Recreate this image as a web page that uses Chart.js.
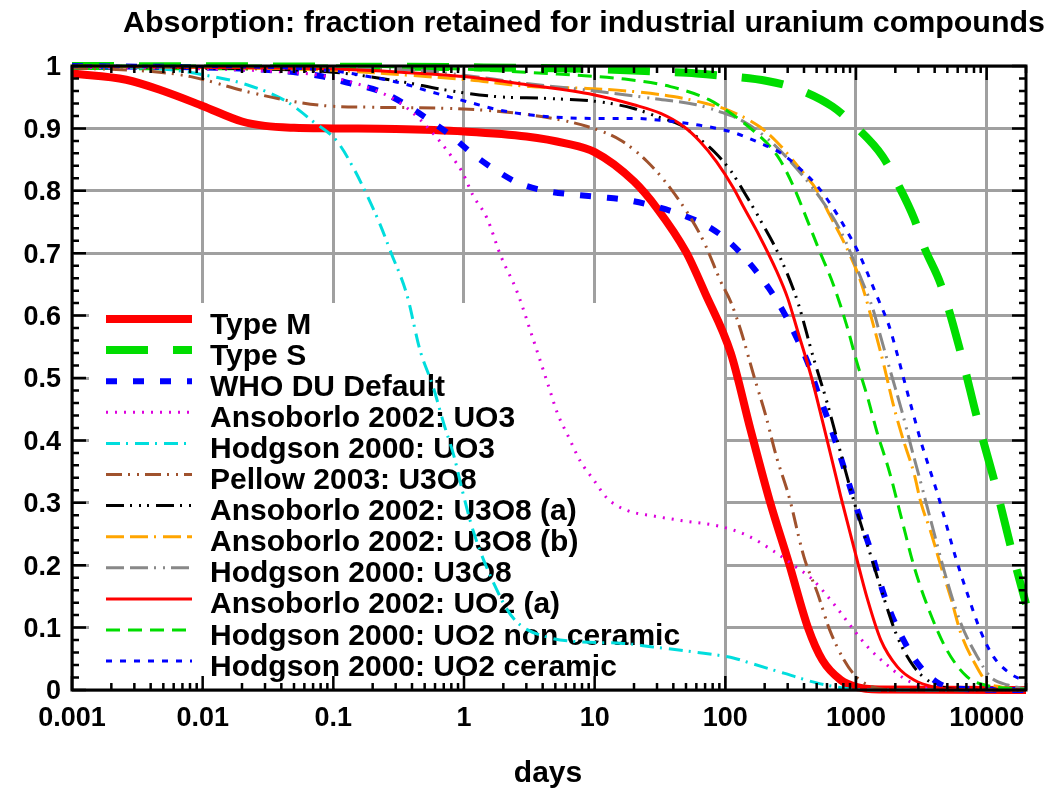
<!DOCTYPE html>
<html>
<head>
<meta charset="utf-8">
<title>Absorption: fraction retained</title>
<script src="https://cdn.jsdelivr.net/npm/chart.js@4.4.1/dist/chart.umd.min.js"></script>
<style>
  html, body { margin: 0; padding: 0; background: #fff; }
  canvas { display: block; }
</style>
</head>
<body>
<canvas id="chart" width="1059" height="798"></canvas>
<script>
// days after intake / fraction retained
const typeMDays = [0.001, 0.0026, 0.005, 0.01, 0.02, 0.03, 0.05, 0.1, 0.3, 1, 3, 6, 10, 20, 30, 50, 70, 110, 156, 218, 307, 429, 553, 764, 1000, 1500, 20000];
const typeMFrac = [0.988, 0.978, 0.96, 0.936, 0.911, 0.904, 0.901, 0.9, 0.899, 0.895, 0.887, 0.876, 0.862, 0.815, 0.772, 0.702, 0.636, 0.54, 0.417, 0.304, 0.203, 0.10, 0.048, 0.016, 0.005, 0.001, 0];

const typeSDays = [0.001, 0.1, 1, 10, 30, 60, 100, 209, 357, 660, 970, 1600, 2075, 2780, 3320, 4470, 6340, 8510, 11750, 15750, 20000];
const typeSFrac = [1.0, 0.999, 0.998, 0.995, 0.991, 0.988, 0.984, 0.976, 0.963, 0.935, 0.905, 0.855, 0.812, 0.756, 0.71, 0.649, 0.54, 0.433, 0.326, 0.219, 0.138];

const whoDays = [0.001, 0.03, 0.084, 0.135, 0.23, 0.34, 0.52, 0.79, 1.15, 1.75, 2.64, 4.2, 6.9, 11, 18, 29, 47, 75, 110, 156, 215, 282, 358, 434, 508, 604, 718, 832, 975, 1150, 1340, 1550, 1850, 2270, 2950, 4200, 6000, 20000];
const whoFrac = [1.0, 0.994, 0.983, 0.972, 0.959, 0.941, 0.916, 0.889, 0.86, 0.833, 0.812, 0.8, 0.794, 0.79, 0.785, 0.775, 0.761, 0.742, 0.716, 0.682, 0.644, 0.604, 0.561, 0.521, 0.478, 0.436, 0.39, 0.348, 0.302, 0.256, 0.214, 0.168, 0.123, 0.083, 0.043, 0.012, 0.002, 0];

const ansUO3Days = [0.001, 0.06, 0.24, 0.37, 0.58, 0.79, 0.97, 1.17, 1.5, 1.9, 2.55, 3.3, 4.45, 5.2, 6.3, 7.8, 9.8, 12.5, 17.6, 28, 48, 92, 146, 236, 358, 455, 670, 900, 1230, 1800, 2440, 4000, 20000];
const ansUO3Frac = [0.998, 0.988, 0.956, 0.932, 0.892, 0.857, 0.83, 0.793, 0.756, 0.697, 0.638, 0.569, 0.486, 0.443, 0.406, 0.366, 0.337, 0.307, 0.288, 0.279, 0.271, 0.262, 0.248, 0.222, 0.195, 0.179, 0.139, 0.104, 0.069, 0.037, 0.016, 0.002, 0];

const hodUO3Days = [0.001, 0.0057, 0.0101, 0.0218, 0.044, 0.07, 0.107, 0.143, 0.181, 0.229, 0.275, 0.366, 0.46, 0.58, 0.70, 0.84, 0.97, 1.13, 1.35, 1.69, 2.15, 2.7, 4.3, 7.8, 15.8, 28, 57, 117, 156, 280, 508, 810, 1200, 20000];
const hodUO3Frac = [1.0, 0.994, 0.986, 0.97, 0.943, 0.911, 0.879, 0.836, 0.793, 0.745, 0.702, 0.633, 0.545, 0.486, 0.427, 0.374, 0.32, 0.267, 0.219, 0.171, 0.128, 0.104, 0.085, 0.077, 0.075, 0.069, 0.061, 0.051, 0.043, 0.027, 0.011, 0.003, 0, 0];

const pellowDays = [0.001, 0.0041, 0.0081, 0.0218, 0.0495, 0.09, 0.19, 0.79, 1.69, 3.9, 8.8, 15.8, 25.2, 38, 54.5, 68.6, 92.5, 110, 131, 166, 205, 246, 307, 400, 508, 630, 810, 975, 1230, 2000, 20000];
const pellowFrac = [0.997, 0.991, 0.983, 0.959, 0.943, 0.936, 0.934, 0.932, 0.928, 0.919, 0.903, 0.881, 0.847, 0.804, 0.756, 0.718, 0.654, 0.622, 0.577, 0.502, 0.438, 0.374, 0.31, 0.213, 0.155, 0.096, 0.048, 0.024, 0.008, 0, 0];

const ansU3O8aDays = [0.001, 0.01, 0.1, 0.33, 0.7, 1.75, 4.3, 10.5, 19.9, 30, 45.8, 61, 82, 110, 140, 182, 263, 358, 470, 604, 765, 975, 1330, 1620, 2075, 2780, 3700, 6000, 20000];
const ansU3O8aFrac = [1.0, 0.997, 0.99, 0.975, 0.962, 0.951, 0.948, 0.943, 0.932, 0.919, 0.905, 0.886, 0.863, 0.832, 0.797, 0.756, 0.693, 0.622, 0.534, 0.459, 0.379, 0.299, 0.208, 0.15, 0.085, 0.037, 0.013, 0.001, 0];

const ansU3O8bDays = [0.001, 0.01, 0.1, 0.33, 1.05, 3.2, 8.8, 19.9, 40, 71, 106, 182, 246, 370, 508, 630, 850, 1090, 1370, 1620, 1920, 2260, 2780, 3150, 3700, 4470, 5380, 6340, 8100, 10000, 12800, 20000];
const ansU3O8bFrac = [1.0, 0.998, 0.993, 0.986, 0.978, 0.967, 0.964, 0.959, 0.951, 0.94, 0.929, 0.903, 0.879, 0.836, 0.799, 0.761, 0.708, 0.654, 0.582, 0.524, 0.459, 0.406, 0.347, 0.299, 0.256, 0.198, 0.144, 0.091, 0.043, 0.013, 0.005, 0.001];

const hodU3O8Days = [0.001, 0.01, 0.39, 0.93, 3, 10, 30, 60, 90, 138, 209, 334, 560, 765, 1090, 1340, 1550, 1850, 2230, 2680, 3200, 3700, 4960, 6340, 8500, 10700, 14500, 20000];
const hodU3O8Frac = [1.0, 0.999, 0.994, 0.986, 0.972, 0.96, 0.947, 0.938, 0.927, 0.911, 0.884, 0.841, 0.782, 0.735, 0.66, 0.612, 0.565, 0.508, 0.449, 0.385, 0.325, 0.275, 0.176, 0.107, 0.053, 0.021, 0.008, 0.002];

const ansUO2Days = [0.001, 0.01, 0.1, 0.33, 1, 3, 9.8, 19.9, 32, 48, 64, 86, 115, 138, 182, 246, 300, 358, 455, 560, 670, 765, 975, 1230, 1550, 2075, 2780, 3900, 6000, 20000];
const ansUO2Frac = [1.0, 0.998, 0.995, 0.99, 0.983, 0.97, 0.954, 0.938, 0.924, 0.903, 0.879, 0.846, 0.805, 0.774, 0.728, 0.672, 0.628, 0.575, 0.502, 0.427, 0.36, 0.31, 0.224, 0.144, 0.08, 0.037, 0.016, 0.005, 0.001, 0];

const hodUO2ncDays = [0.001, 0.1, 1, 2.33, 5.2, 17, 38, 75, 100, 127, 156, 220, 263, 334, 420, 520, 670, 850, 1010, 1230, 1440, 1800, 2230, 2780, 3700, 4960, 7100, 9700, 20000];
const hodUO2ncFrac = [1.0, 1.0, 0.995, 0.991, 0.987, 0.979, 0.967, 0.946, 0.93, 0.915, 0.9, 0.871, 0.849, 0.806, 0.755, 0.706, 0.65, 0.584, 0.527, 0.468, 0.415, 0.35, 0.275, 0.198, 0.123, 0.064, 0.021, 0.008, 0.001];

const hodUO2cDays = [0.001, 0.03, 0.1, 0.2, 0.34, 0.55, 1.05, 1.9, 3.4, 6.1, 11, 19.9, 35.6, 64, 117, 182, 263, 370, 508, 670, 850, 1040, 1230, 1440, 1800, 2075, 2400, 2780, 3150, 3700, 4200, 4620, 5760, 7100, 9000, 11300, 15000, 20000];
const hodUO2cFrac = [1.0, 0.998, 0.992, 0.982, 0.972, 0.959, 0.943, 0.929, 0.921, 0.917, 0.916, 0.916, 0.912, 0.905, 0.893, 0.877, 0.861, 0.836, 0.807, 0.772, 0.736, 0.702, 0.667, 0.632, 0.582, 0.537, 0.487, 0.438, 0.397, 0.351, 0.315, 0.285, 0.214, 0.155, 0.094, 0.053, 0.027, 0.013];

const xTickValues = [0.001, 0.01, 0.1, 1, 10, 100, 1000, 10000];
const yTickValues = [0, 0.1, 0.2, 0.3, 0.4, 0.5, 0.6, 0.7, 0.8, 0.9, 1];

const FONT = '"Liberation Sans", Arial, Helvetica, sans-serif';

const series = [
    { label: 'Type M', days: typeMDays, frac: typeMFrac, color: '#ff0000', width: 8, dash: [] },
    { label: 'Type S', days: typeSDays, frac: typeSFrac, color: '#00dd00', width: 8, dash: [42, 25] },
    { label: 'WHO DU Default', days: whoDays, frac: whoFrac, color: '#0000ff', width: 6, dash: [11, 16] },
    { label: 'Ansoborlo 2002: UO3', days: ansUO3Days, frac: ansUO3Frac, color: '#dd00dd', width: 3, dash: [2, 7] },
    { label: 'Hodgson 2000: UO3', days: hodUO3Days, frac: hodUO3Frac, color: '#00dddd', width: 3, dash: [14, 6, 2, 7] },
    { label: 'Pellow 2003: U3O8', days: pellowDays, frac: pellowFrac, color: '#a0522d', width: 3, dash: [16, 6, 2, 7, 2, 6] },
    { label: 'Ansoborlo 2002: U3O8 (a)', days: ansU3O8aDays, frac: ansU3O8aFrac, color: '#000000', width: 3, dash: [18, 6, 2, 7, 2, 6, 2, 7] },
    { label: 'Ansoborlo 2002: U3O8 (b)', days: ansU3O8bDays, frac: ansU3O8bFrac, color: '#ffa500', width: 3, dash: [18, 6, 18, 6, 2, 7] },
    { label: 'Hodgson 2000: U3O8', days: hodU3O8Days, frac: hodU3O8Frac, color: '#888888', width: 3, dash: [18, 6, 18, 6, 2, 7, 2, 6] },
    { label: 'Ansoborlo 2002: UO2 (a)', days: ansUO2Days, frac: ansUO2Frac, color: '#ff0000', width: 3, dash: [] },
    { label: 'Hodgson 2000: UO2 non ceramic', days: hodUO2ncDays, frac: hodUO2ncFrac, color: '#00dd00', width: 3, dash: [14, 8] },
    { label: 'Hodgson 2000: UO2 ceramic', days: hodUO2cDays, frac: hodUO2cFrac, color: '#0000ff', width: 3, dash: [6, 8] }
];

// gnuplot style frame: white key box under the curves, inward ticks, title
const gnuplotFrame = {
    id: 'gnuplotFrame',
    beforeDatasetsDraw(chart) {
        const ctx = chart.ctx;
        const area = chart.chartArea;
        ctx.save();
        // key box hides the grid but not the curves
        ctx.fillStyle = '#ffffff';
        ctx.fillRect(area.left + 17, 303, 725 - area.left - 18, area.bottom - 303 - 2);

        ctx.font = 'bold 30px ' + FONT;
        ctx.textAlign = 'left';
        ctx.textBaseline = 'alphabetic';
        series.forEach((s, i) => {
            const rowY = 319 + i * 31.1;
            ctx.beginPath();
            ctx.strokeStyle = s.color;
            ctx.lineWidth = s.width;
            ctx.lineCap = 'butt';
            ctx.setLineDash(s.dash);
            ctx.moveTo(106, rowY);
            ctx.lineTo(192, rowY);
            ctx.stroke();
            ctx.setLineDash([]);
            ctx.fillStyle = '#000000';
            ctx.fillText(s.label, 210, rowY + 14.5);
        });
        ctx.restore();
    },
    afterDatasetsDraw(chart) {
        const ctx = chart.ctx;
        const area = chart.chartArea;
        const xs = chart.scales.x;
        const ys = chart.scales.y;
        ctx.save();
        ctx.strokeStyle = '#000000';
        ctx.lineWidth = 2.5;
        ctx.beginPath();
        for (let e = -3; e <= 4; e++) {
            for (let m = 1; m <= 9; m++) {
                const v = m * Math.pow(10, e);
                if (v > xs.max) continue;
                const px = xs.getPixelForValue(v);
                const len = m === 1 ? 14 : 7;
                ctx.moveTo(px, area.bottom);
                ctx.lineTo(px, area.bottom - len);
                ctx.moveTo(px, area.top);
                ctx.lineTo(px, area.top + len);
            }
        }
        for (let k = 0; k <= 50; k++) {
            const py = ys.getPixelForValue(k / 50);
            const len = k % 5 === 0 ? 14 : 7;
            ctx.moveTo(area.left, py);
            ctx.lineTo(area.left + len, py);
            ctx.moveTo(area.right, py);
            ctx.lineTo(area.right - len, py);
        }
        ctx.stroke();
        ctx.lineWidth = 3;
        ctx.strokeRect(area.left, area.top, area.right - area.left, area.bottom - area.top);
        ctx.restore();
    },
    afterDraw(chart) {
        const ctx = chart.ctx;
        ctx.save();
        ctx.fillStyle = '#000000';
        ctx.font = 'bold 30.4px ' + FONT;
        ctx.textAlign = 'center';
        ctx.textBaseline = 'alphabetic';
        ctx.fillText('Absorption: fraction retained for industrial uranium compounds', 584, 32);
        ctx.font = 'bold 30px ' + FONT;
        ctx.fillText('days', 548, 782);
        ctx.restore();
    }
};

new Chart(document.getElementById('chart'), {
    type: 'line',
    data: {
        datasets: series.map((s, i) => ({
            label: s.label,
            data: s.days.map((d, k) => ({ x: d, y: s.frac[k] })),
            borderColor: s.color,
            borderWidth: s.width,
            borderDash: s.dash,
            pointRadius: 0,
            fill: false,
            cubicInterpolationMode: 'monotone',
            order: series.length - i,
            clip: false
        }))
    },
    options: {
        responsive: false,
        animation: false,
        devicePixelRatio: 1,
        layout: { padding: { top: 66, right: 33, left: 0, bottom: 0 } },
        plugins: {
            legend: { display: false },
            title: { display: false },
            tooltip: { enabled: false }
        },
        scales: {
            x: {
                type: 'logarithmic',
                min: 0.001,
                max: 20000,
                afterBuildTicks: sc => { sc.ticks = xTickValues.map(v => ({ value: v })); },
                afterFit: sc => { sc.height = 108; },
                ticks: {
                    callback: v => String(v),
                    autoSkip: false,
                    maxRotation: 0,
                    padding: 12,
                    color: '#000000',
                    font: { family: FONT, size: 27, weight: 'bold' }
                },
                grid: { color: '#a0a0a0', lineWidth: 3, drawTicks: false },
                border: { display: false }
            },
            y: {
                min: 0,
                max: 1,
                afterBuildTicks: sc => { sc.ticks = yTickValues.map(v => ({ value: v })); },
                afterFit: sc => { sc.width = 72; },
                ticks: {
                    callback: v => String(v),
                    padding: 11,
                    labelOffset: 2,
                    color: '#000000',
                    font: { family: FONT, size: 27, weight: 'bold' }
                },
                grid: { color: '#a0a0a0', lineWidth: 3, drawTicks: false },
                border: { display: false }
            }
        }
    },
    plugins: [gnuplotFrame]
});
</script>
</body>
</html>
